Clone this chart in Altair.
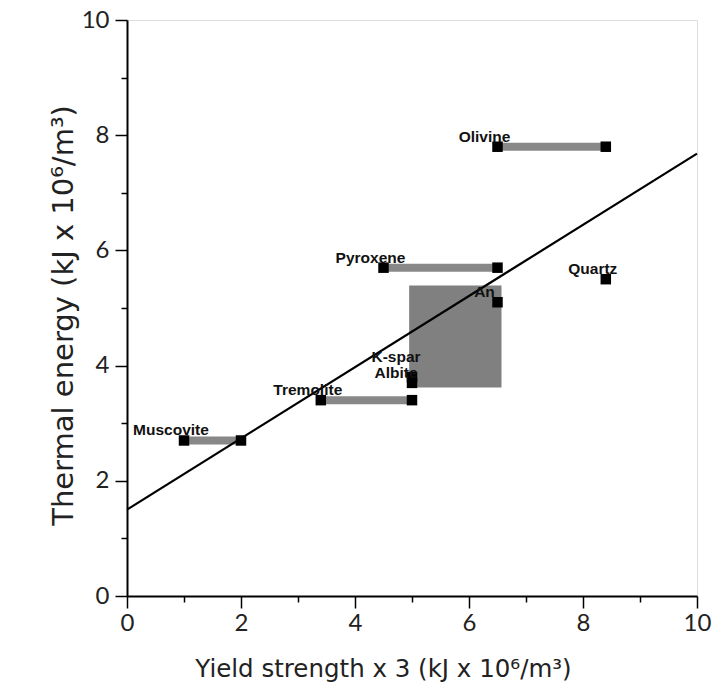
import altair as alt
import pandas as pd

# Horizontal range bars (mineral, x start, x end, y)
bar_names = ["Muscovite", "Tremolite", "Pyroxene", "Olivine"]
bar_x1 = [1.0, 3.4, 4.5, 6.5]
bar_x2 = [2.0, 5.0, 6.5, 8.4]
bar_y = [2.7, 3.4, 5.7, 7.8]

# Square markers
pt_names = ["Muscovite", "Muscovite", "Tremolite", "Tremolite", "Pyroxene", "Pyroxene",
            "Olivine", "Olivine", "Quartz", "An", "K-spar", "Albite"]
pt_x = [1.0, 2.0, 3.4, 5.0, 4.5, 6.5, 6.5, 8.4, 8.4, 6.5, 5.0, 5.0]
pt_y = [2.7, 2.7, 3.4, 3.4, 5.7, 5.7, 7.8, 7.8, 5.5, 5.1, 3.8, 3.7]

# Labels (anchored at the first point of each mineral)
lab_names = ["Muscovite", "Tremolite", "Pyroxene", "Olivine", "Quartz", "An", "K-spar", "Albite"]
lab_x = [1.0, 3.4, 4.5, 6.5, 8.4, 6.5, 5.0, 5.0]
lab_y = [2.7, 3.4, 5.7, 7.8, 5.5, 5.1, 3.8, 3.7]

# Feldspar box
box_x1, box_x2 = [4.95], [6.57]
box_y1, box_y2 = [3.62], [5.39]

# Regression line
line_x = [0.0, 10.0]
line_y = [1.5, 7.68]

bars = pd.DataFrame({"name": bar_names, "x1": bar_x1, "x2": bar_x2, "y": bar_y})
pts = pd.DataFrame({"name": pt_names, "x": pt_x, "y": pt_y})
labs = pd.DataFrame({"name": lab_names, "x": lab_x, "y": lab_y})
box = pd.DataFrame({"x1": box_x1, "x2": box_x2, "y1": box_y1, "y2": box_y2})
line = pd.DataFrame({"x": line_x, "y": line_y})

FONT = "Lato"
TFONT = "DejaVu Sans"
tick_vals = list(range(0, 11))
tick_size = {"condition": {"test": "datum.value % 2 == 0", "value": 12}, "value": 6}
label_expr = "datum.value % 2 == 0 ? format(datum.value, 'd') : ''"

xscale = alt.Scale(domain=[0, 10], nice=False, zero=False)
yscale = alt.Scale(domain=[0, 10], nice=False, zero=False)

xaxis = alt.Axis(
    values=tick_vals, labelExpr=label_expr, tickSize=tick_size, grid=False,
    domainColor="black", domainWidth=2, tickColor="black", tickWidth=1.5,
    labelFont=FONT, labelFontSize=24, labelColor="#222", labelPadding=3,
    labelFlush=False, labelOverlap=False,
    title="Yield strength x 3 (kJ x 10⁶/m³)", titleFont=TFONT, titleFontSize=24.5,
    titleFontWeight="normal", titleColor="#222",
    titleX=256, titleY=73, titleBaseline="middle",
)
yaxis = alt.Axis(
    values=tick_vals, labelExpr=label_expr, tickSize=tick_size, grid=False,
    domainColor="black", domainWidth=2, tickColor="black", tickWidth=1.5,
    labelFont=FONT, labelFontSize=24, labelColor="#222", labelPadding=6,
    labelFlush=False, labelOverlap=False,
    title="Thermal energy (kJ x 10⁶/m³)", titleFont=TFONT, titleFontSize=29,
    titleFontWeight="normal", titleColor="#222",
    titleX=-64, titleY=295, titleBaseline="middle",
)

rect = alt.Chart(box).mark_rect(color="#808080").encode(
    x=alt.X("x1:Q", scale=xscale, axis=xaxis),
    x2="x2:Q",
    y=alt.Y("y1:Q", scale=yscale, axis=yaxis),
    y2="y2:Q",
)

rules = alt.Chart(bars).mark_rule(color="#888888", strokeWidth=8).encode(
    x="x1:Q", x2="x2:Q", y="y:Q"
)

reg = alt.Chart(line).mark_line(color="black", strokeWidth=2.2).encode(
    x="x:Q", y="y:Q"
)

squares = alt.Chart(pts).mark_square(color="black", opacity=1, size=110).encode(
    x="x:Q", y="y:Q"
)

LFS = 15.5
text_main = alt.Chart(labs).transform_filter(
    "datum.name != 'K-spar' && datum.name != 'Albite'"
).mark_text(font="Liberation Sans", fontWeight="bold", fontSize=LFS, dx=-13, dy=-10,
            color="#111").encode(x="x:Q", y="y:Q", text="name:N")

text_ks = alt.Chart(labs).transform_filter("datum.name == 'K-spar'").mark_text(
    font="Liberation Sans", fontWeight="bold", fontSize=LFS, dx=-16, dy=-20, color="#111"
).encode(x="x:Q", y="y:Q", text="name:N")

text_ab = alt.Chart(labs).transform_filter("datum.name == 'Albite'").mark_text(
    font="Liberation Sans", fontWeight="bold", fontSize=LFS, dx=-16, dy=-10, color="#111"
).encode(x="x:Q", y="y:Q", text="name:N")

chart = alt.layer(rect, rules, reg, squares, text_main, text_ks, text_ab).properties(
    width=570, height=576,
    autosize=alt.AutoSizeParams(type="none"),
    padding={"left": 119, "top": 12, "right": 15, "bottom": 86},
).configure_view(stroke=None).configure(background="white")

chart.save("out.html", embed_options={"renderer": "svg", "actions": False})
